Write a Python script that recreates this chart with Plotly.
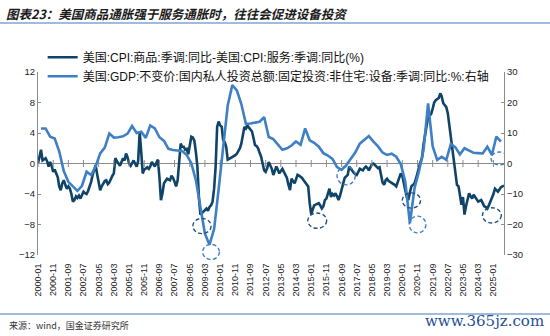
import pandas as pd
import plotly.graph_objects as go

# ---------------- data ----------------
cpi_start = "2000-01-01"
cpi_goods_minus_services = [
    # 2000
    0.0, 0.9, 1.8, 0.4, 0.5, 0.7, 0.3, -0.4, 0.2, -0.3, -1.1, -0.8,
    # 2001
    -1.3, -1.8, -3.0, -3.5, -2.6, -2.2, -2.8, -3.3, -3.0, -3.3, -4.0, -5.0,
    # 2002
    -4.8, -4.3, -4.5, -4.2, -4.6, -4.1, -3.7, -3.9, -4.0, -3.6, -3.0, -2.4,
    # 2003
    -1.5, -0.6, -0.2, -1.4, -2.3, -3.5, -3.0, -2.6, -2.3, -2.2, -2.7, -2.5,
    # 2004
    -2.0, -1.6, -1.3, 0.7, 0.3, 0.0, -0.3, 0.2, 0.7, 0.4, 1.3, 0.8,
    # 2005
    0.0, -0.3, 0.1, 0.4, 0.0, -0.4, 0.3, 4.2, 1.5, -1.3, -0.8, -0.7,
    # 2006
    -0.5, -0.7, -0.4, 0.2, -0.1, -0.4, 0.1, 0.5, -1.8, -4.8, -3.9, -2.6,
    # 2007
    -2.3, -2.0, -2.1, -2.2, -1.6, -1.9, -2.4, -3.0, -2.2, 0.5, 2.6, 2.2,
    # 2008
    2.2, 1.8, 1.9, 1.2, 2.3, 3.5, 3.4, 3.0, 1.5, -0.4, -4.5, -6.7,
    # 2009
    -6.5, -6.3, -6.0, -5.9, -6.2, -5.7, -5.5, -5.0, -3.3, -0.5, 4.8, 5.5,
    # 2010
    5.0, 4.8, 3.1, 2.8, 2.2, 0.5, 0.6, 0.7, 0.8, 0.9, 1.1, 1.3,
    # 2011
    1.6, 2.0, 2.6, 3.8, 4.8, 4.6, 5.0, 4.7, 4.5, 4.2, 3.3, 2.4,
    # 2012
    2.3, 2.0, 1.4, 0.9, 0.0, -0.9, -1.1, -0.6, 0.2, -0.3, -0.7, -1.5,
    # 2013
    -1.0, -0.4, -0.8, -1.3, -1.0, -0.7, -1.1, -1.6, -1.9, -2.8, -3.5, -2.0,
    # 2014
    -2.4, -2.6, -2.1, -1.5, -1.6, -1.7, -1.9, -2.2, -2.5, -2.8, -3.0, -5.2,
    # 2015
    -6.7, -6.0, -5.5, -5.4, -5.3, -5.2, -5.5, -5.9, -5.6, -4.8, -4.6, -3.9,
    # 2016
    -3.3, -4.4, -4.0, -4.2, -3.9, -4.3, -4.8, -4.2, -3.5, -2.7, -1.9, -1.7,
    # 2017
    -1.5, -0.4, -0.7, -0.9, -1.2, -1.4, -1.5, -1.1, -0.7, -0.8, -0.9, -0.6,
    # 2018
    -0.4, -0.6, -0.9, -0.5, -0.1, 0.0, -0.2, -0.4, -0.6, -0.5, -1.4, -2.5,
    # 2019
    -2.8, -2.2, -2.0, -2.3, -2.4, -2.5, -2.6, -2.8, -3.0, -2.5, -2.0, -1.3,
    # 2020
    -1.6, -2.4, -3.5, -4.4, -4.8, -3.8, -3.0, -2.8, -2.6, -2.0, -1.1, -0.5,
    # 2021
    0.2, 0.8, 2.5, 3.8, 5.0, 6.1, 6.3, 6.5, 7.2, 8.0, 8.3, 8.4,
    # 2022
    8.6, 9.2, 8.8, 7.9, 7.7, 7.4, 6.6, 5.1, 3.8, 2.2, 0.2, -0.9,
    # 2023
    -2.8, -3.0, -4.2, -5.4, -4.4, -6.7, -5.6, -4.8, -3.9, -4.3, -4.6, -4.1,
    # 2024
    -4.5, -4.7, -5.0, -4.9, -4.8, -5.2, -5.6, -5.7, -5.9, -5.5, -5.0, -4.6,
    # 2025
    -4.0, -3.3, -3.5, -3.7, -3.4, -3.1, -3.0, -2.9,
]

gdp_start = "2000-03-01"
gdp_equipment_yoy = [
    11.5, 11.5, 8.8, 8.2,      # 2000
    4.0, -2.5, -6.0, -7.4,     # 2001
    -9.0, -7.3, -2.7, -3.8,    # 2002
    -1.0, 3.3, 5.2, 9.8,       # 2003
    8.5, 8.6, 8.9, 9.8,        # 2004
    12.3, 10.0, 10.4, 8.4,     # 2005
    12.5, 11.5, 8.6, 7.4,      # 2006
    4.8, 4.4, 4.3, 4.1,        # 2007
    2.8, 0.1, -5.5, -14.8,     # 2008
    -23.0, -26.6, -21.5, -8.5, # 2009
    6.0, 19.0, 25.7, 24.0,     # 2010
    19.5, 13.0, 13.1, 13.3,    # 2011
    13.7, 15.2, 8.7, 8.0,      # 2012
    6.3, 4.5, 5.0, 5.9,        # 2013
    7.2, 6.1, 11.5, 7.6,       # 2014
    6.8, 5.5, 3.4, 2.6,        # 2015
    1.5, -1.2, -2.1, -0.6,     # 2016
    1.5, 3.6, 6.5, 7.8,        # 2017
    9.0, 7.2, 5.6, 3.6,        # 2018
    2.8, 3.2, 2.2, -0.2,       # 2019
    -6.0, -19.6, -8.2, -2.5,   # 2020
    4.4, 19.7, 5.6, 1.2,       # 2021
    2.2, 1.2, 6.4, 5.3,        # 2022
    3.0, 5.0, 4.2, 3.5,        # 2023
    3.4, 3.3, 5.5, 2.8,        # 2024
    8.8, 7.2,                  # 2025
]

x_tick_labels = [
    "2000-01", "2000-11", "2001-09", "2002-07", "2003-05", "2004-03", "2005-01",
    "2005-11", "2006-09", "2007-07", "2008-05", "2009-03", "2010-01", "2010-11",
    "2011-09", "2012-07", "2013-05", "2014-03", "2015-01", "2015-11", "2016-09",
    "2017-07", "2018-05", "2019-03", "2020-01", "2020-11", "2021-09", "2022-07",
    "2023-05", "2024-03", "2025-01",
]
left_ticks = [-12, -8, -4, 0, 4, 8, 12]
right_ticks = [-30, -20, -10, 0, 10, 20, 30]

name_cpi = "美国:CPI:商品:季调:同比-美国:CPI:服务:季调:同比(%)"
name_gdp = "美国:GDP:不变价:国内私人投资总额:固定投资:非住宅:设备:季调:同比:%:右轴"
title_text = "图表23：美国商品通胀强于服务通胀时，往往会促进设备投资"
source_text = "来源：wind，国金证券研究所"
watermark_text = "www.365jz.com"

# highlighted episodes: (centre month, centre value on left axis, half-width months, half-height, which line)
highlight_marks = [
    ("2009-01-01", -8.2, 6.0, 1.0, "cpi"),
    ("2009-07-01", -11.6, 5.5, 1.0, "gdp"),
    ("2015-05-01", -7.5, 6.2, 1.0, "cpi"),
    ("2016-12-01", -1.6, 6.0, 1.2, "gdp"),
    ("2020-07-01", -4.85, 6.0, 1.0, "cpi"),
    ("2020-11-01", -8.0, 5.5, 1.1, "gdp"),
    ("2024-12-01", -6.8, 6.2, 1.0, "cpi"),
    ("2025-05-01", 0.66, 5.5, 0.85, "gdp"),
]

# ---------------- styles ----------------
DARK = "#0f4468"
LIGHT = "#3f7fc4"
AXIS = "#8c8c8c"
RULE = "#7ea6cf"
LEFT_RANGE = [-12, 12]
X_RANGE = ["2000-01-01", "2025-08-01"]

cpi_dates = pd.date_range(cpi_start, periods=len(cpi_goods_minus_services), freq="MS")
gdp_dates = pd.date_range(gdp_start, periods=len(gdp_equipment_yoy), freq="3MS")
tick_dates = [pd.Timestamp(t + "-01") for t in x_tick_labels]

fig = go.Figure()
fig.add_trace(go.Scatter(
    x=cpi_dates, y=cpi_goods_minus_services, name=name_cpi, mode="lines",
    line=dict(color=DARK, width=2.6), yaxis="y",
))
fig.add_trace(go.Scatter(
    x=gdp_dates, y=gdp_equipment_yoy, name=name_gdp, mode="lines",
    line=dict(color=LIGHT, width=2.6), yaxis="y2",
))
# small tick marks sitting on the zero line
fig.add_trace(go.Scatter(
    x=tick_dates, y=[0] * len(tick_dates), mode="markers", showlegend=False,
    hoverinfo="skip",
    marker=dict(symbol="line-ns", size=5, line=dict(color=AXIS, width=1)),
    yaxis="y",
))

def to_paper_y(v):
    return (v - LEFT_RANGE[0]) / (LEFT_RANGE[1] - LEFT_RANGE[0])

shapes = []
for c, v, hw, hh, which in highlight_marks:
    cen = pd.Timestamp(c)
    shapes.append(dict(
        type="circle", xref="x", yref="paper",
        x0=cen - pd.Timedelta(days=30.44 * hw), x1=cen + pd.Timedelta(days=30.44 * hw),
        y0=to_paper_y(v - hh), y1=to_paper_y(v + hh),
        line=dict(color="#1f5083" if which == "cpi" else LIGHT, width=1.4, dash="4px,2.5px"),
        layer="above",
    ))
# rules under the title and above the source
shapes.append(dict(type="line", xref="paper", yref="paper", x0=-0.082, x1=1.1,
                   y0=1.268, y1=1.268, line=dict(color=RULE, width=1.5)))
shapes.append(dict(type="line", xref="paper", yref="paper", x0=-0.082, x1=1.1,
                   y0=-0.322, y1=-0.322, line=dict(color=RULE, width=1.5)))

annotations = [
    dict(text="<b><i>" + title_text + "</i></b>", xref="paper", yref="paper",
         x=-0.074, y=1.322, xanchor="left", yanchor="middle", showarrow=False,
         font=dict(family="Noto Sans CJK SC", size=12.5, color="#1b1b1b")),
    dict(text=source_text, xref="paper", yref="paper",
         x=-0.066, y=-0.385, xanchor="left", yanchor="middle", showarrow=False,
         font=dict(family="Noto Sans CJK SC", size=9, color="#333333")),
    dict(text=watermark_text, xref="paper", yref="paper",
         x=1.09, y=-0.36, xanchor="right", yanchor="middle", showarrow=False,
         font=dict(family="DejaVu Serif", size=15, color="#1f4f95")),
]

fig.update_layout(
    width=550, height=336,
    margin=dict(l=38, r=46, t=72, b=81),
    paper_bgcolor="white", plot_bgcolor="white",
    showlegend=True,
    legend=dict(x=0.01, y=1.16, xanchor="left", yanchor="top",
                bgcolor="rgba(0,0,0,0)", borderwidth=0,
                font=dict(family="Liberation Sans, Noto Sans CJK SC", size=12, color="#111111"),
                itemwidth=30, tracegroupgap=0),
    xaxis=dict(type="date", range=X_RANGE, tickvals=tick_dates, ticktext=x_tick_labels,
               tickangle=-90, showgrid=False, showline=False, zeroline=False,
               ticks="outside", ticklen=4, tickcolor="rgba(0,0,0,0)",
               tickfont=dict(family="Liberation Sans", size=9, color="#222222")),
    yaxis=dict(range=LEFT_RANGE, tickvals=left_ticks, showgrid=False,
               showline=True, linecolor=AXIS, linewidth=1,
               ticks="inside", ticklen=3, tickcolor=AXIS,
               zeroline=True, zerolinecolor=AXIS, zerolinewidth=1,
               tickfont=dict(family="Liberation Sans", size=9.5, color="#222222")),
    yaxis2=dict(range=[-30, 30], tickvals=right_ticks, overlaying="y", side="right",
                showgrid=False, showline=True, linecolor=AXIS, linewidth=1,
                ticks="inside", ticklen=3, tickcolor=AXIS, zeroline=False,
                tickfont=dict(family="Liberation Sans", size=9.5, color="#222222")),
    shapes=shapes,
    annotations=annotations,
)

fig.write_html("out.html")
